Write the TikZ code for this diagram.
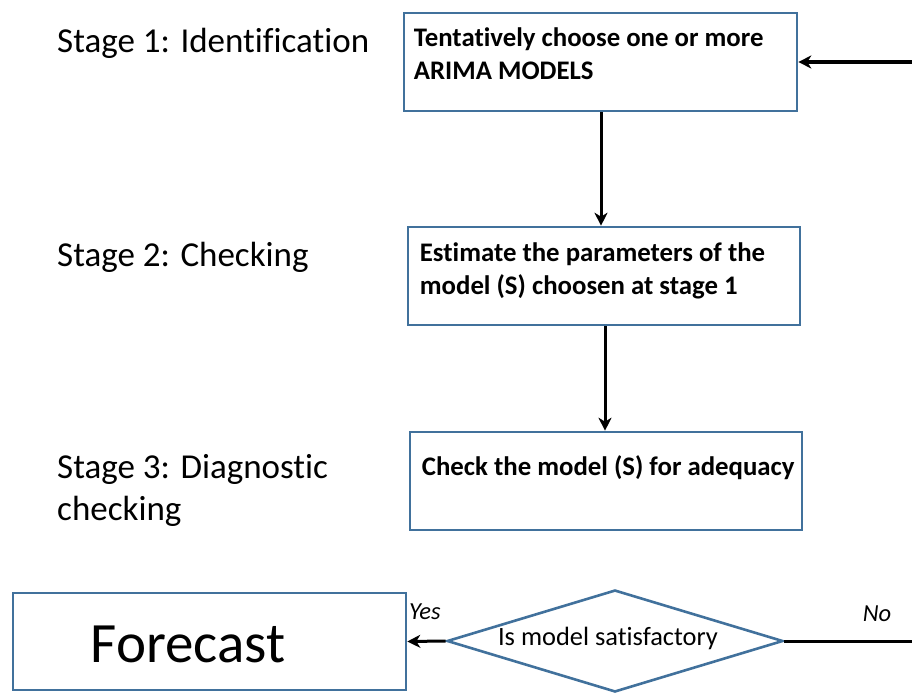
\documentclass[tikz,border=0pt]{standalone}
\usepackage{fontspec}
\setmainfont{Carlito}[Ligatures={NoCommon}]
\usetikzlibrary{arrows.meta, positioning, shapes.geometric, calc}

\definecolor{boxblue}{HTML}{41719C}

\tikzset{
  stepbox/.style={draw=boxblue, line width=2.6pt, rectangle, inner sep=0pt},
  boxtext/.style={anchor=north west, align=left, inner sep=0pt,
    font=\fontsize{26.8}{33}\selectfont\bfseries},
  stagelabel/.style={anchor=west, align=left, inner sep=0pt,
    font=\fontsize{35}{42}\selectfont},
  flow/.style={-{Stealth[length=13pt, width=13pt, inset=4pt]}, line width=3pt, black},
  answer/.style={font=\fontsize{24.5}{28}\selectfont\itshape, inner sep=0pt}
}

\begin{document}
\begin{tikzpicture}[x=1pt, y=-1pt]
\useasboundingbox (0,0) rectangle (912,693);

% Stage labels on the left
\node[stagelabel] (s1) at (57, 43) {Stage 1: Identification};
\node[stagelabel] (s2) at (57, 257) {Stage 2: Checking};
\node[stagelabel, anchor=north west] (s3) at (57, 454) {Stage 3: Diagnostic\\checking};

% Process boxes
\node[stepbox, minimum width=393pt, minimum height=98pt] (b1) at (600.5, 62) {};
\node[boxtext] (t1) at ([shift={(11pt,-16pt)}]b1.north west)
  {Tentatively choose one or more\\ARIMA MODELS};

\node[stepbox, minimum width=392pt, minimum height=98pt] (b2) at (604, 276) {};
\node[boxtext] (t2) at ([shift={(13pt,-17pt)}]b2.north west)
  {Estimate the parameters of the\\model (S) choosen at stage 1};

\node[stepbox, minimum width=392pt, minimum height=98pt] (b3) at (606, 481) {};
\node[boxtext] (t3) at ([shift={(13pt,-25pt)}]b3.north west)
  {Check the model (S) for adequacy};

% Decision and result
\node[diamond, draw=boxblue, line width=2.6pt, aspect=3.3, inner sep=0pt,
  minimum width=336pt, minimum height=102pt] (d) at (615, 641) {};
\node[font=\fontsize{26.4}{30}\selectfont, inner sep=0pt] (dt) at (608, 638) {Is model satisfactory};
\node[stepbox, minimum width=393pt, minimum height=97pt] (fc) at (209.5, 641.5) {};
\node[font=\fontsize{57}{64}\selectfont, inner sep=0pt] (ft) at (188, 644) {Forecast};

\coordinate (noend) at (912, 641);
\coordinate (backin) at (912, 62);

% Connectors
\draw[flow] (b1.south -| 601,0) -- (b2.north -| 601,0);
\draw[flow] (b2.south -| 605,0) -- (b3.north -| 605,0);
\draw[flow] (d.west) -- (fc.east);
\draw[line width=3pt] (d.east) -- (noend);
\draw[flow] (backin) -- (b1.east);

\node[answer, anchor=south west] (yes) at (409, 620) {Yes};
\node[answer] (no) at (877, 614) {No};
\end{tikzpicture}
\end{document}
